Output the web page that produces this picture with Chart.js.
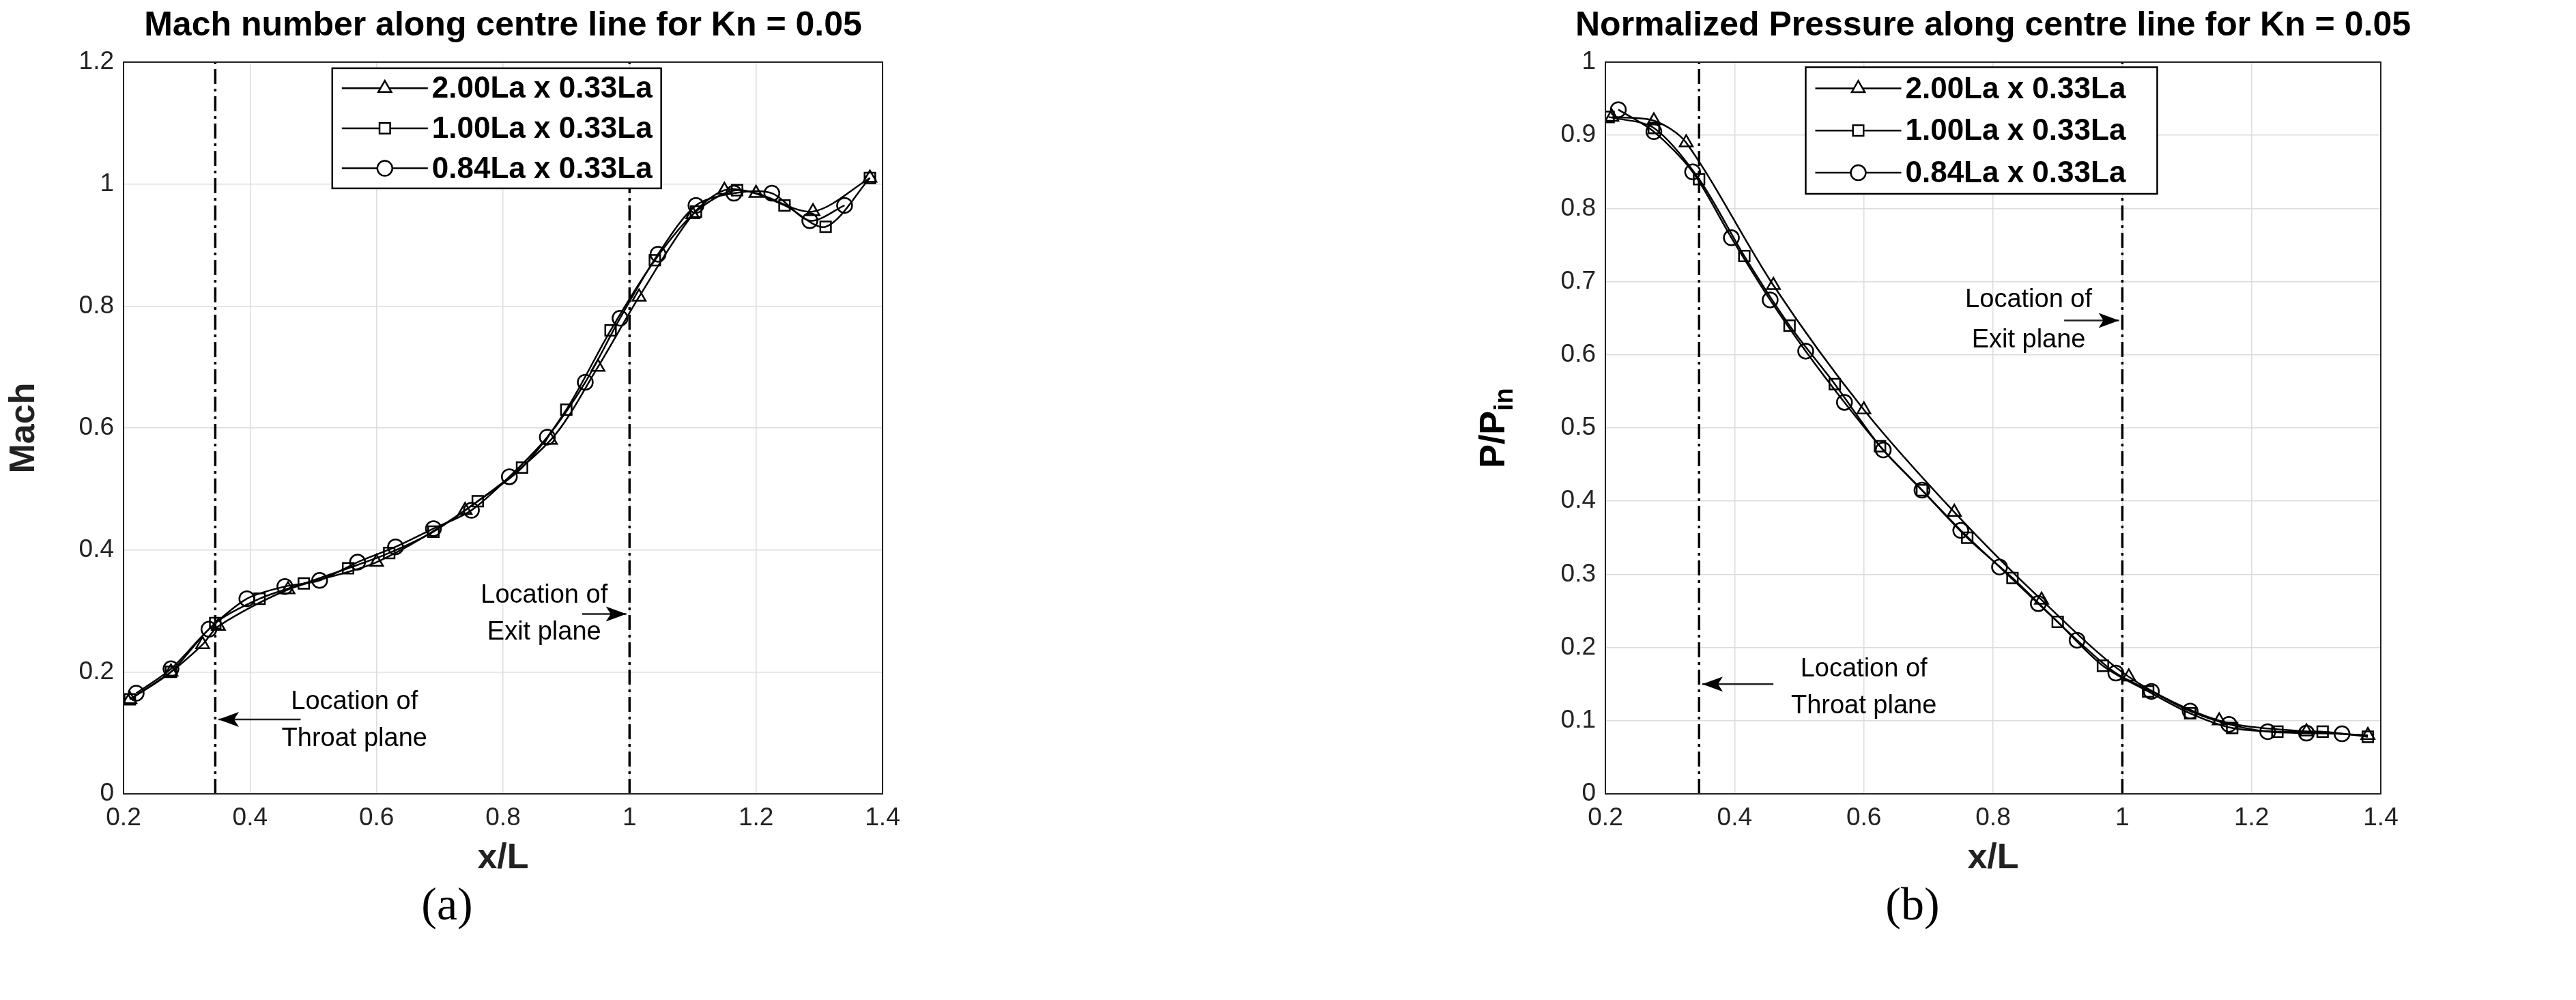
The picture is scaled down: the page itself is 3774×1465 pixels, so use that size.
<!DOCTYPE html>
<html>
<head>
<meta charset="utf-8">
<script src="https://cdn.jsdelivr.net/npm/chart.js@4"></script>
<style>
  body { margin: 0; background: #fff; width: 3774px; height: 1465px; position: relative; overflow: hidden; }
  .box { position: absolute; top: 0; }
  .cap { position: absolute; top: 1285px; font: 68px 'Liberation Serif', serif; color: #000; transform: translateX(-50%); }
</style>
</head>
<body>
<div class="box" style="left:0;width:1340px;height:1293px"><canvas id="mach"></canvas></div>
<div class="box" style="left:2100px;width:1448px;height:1293px"><canvas id="press"></canvas></div>
<div class="cap" style="left:655px">(a)</div>
<div class="cap" style="left:2802px">(b)</div>
<script>
'use strict';

/* DATA */
let seriesNames = ['2.00La x 0.33La', '1.00La x 0.33La', '0.84La x 0.33La'];
let markerStyles = ['triangle', 'rect', 'circle'];

let machTriX = [0.21, 0.275, 0.325, 0.35, 0.46, 0.6, 0.74, 0.875, 0.95, 1.015, 1.1, 1.15, 1.2, 1.29, 1.38];
let machTriY = [0.155, 0.2, 0.245, 0.275, 0.335, 0.38, 0.465, 0.58, 0.7, 0.815, 0.95, 0.99, 0.985, 0.955, 1.01];
let machSqX = [0.21, 0.275, 0.345, 0.415, 0.485, 0.555, 0.62, 0.69, 0.76, 0.83, 0.9, 0.97, 1.04, 1.105, 1.17, 1.245, 1.31, 1.38];
let machSqY = [0.155, 0.2, 0.28, 0.32, 0.345, 0.37, 0.395, 0.43, 0.48, 0.535, 0.63, 0.76, 0.875, 0.955, 0.99, 0.965, 0.93, 1.01];
let machCiX = [0.22, 0.275, 0.335, 0.395, 0.455, 0.51, 0.57, 0.63, 0.69, 0.75, 0.81, 0.87, 0.93, 0.985, 1.045, 1.105, 1.165, 1.225, 1.285, 1.34];
let machCiY = [0.165, 0.205, 0.27, 0.32, 0.34, 0.35, 0.38, 0.405, 0.435, 0.465, 0.52, 0.585, 0.675, 0.78, 0.885, 0.965, 0.985, 0.985, 0.94, 0.965];

let presTriX = [0.21, 0.275, 0.325, 0.46, 0.6, 0.74, 0.875, 1.01, 1.15, 1.285, 1.38];
let presTriY = [0.925, 0.92, 0.89, 0.695, 0.525, 0.385, 0.265, 0.16, 0.1, 0.085, 0.08];
let presSqX = [0.205, 0.275, 0.345, 0.415, 0.485, 0.555, 0.625, 0.69, 0.76, 0.83, 0.9, 0.97, 1.04, 1.105, 1.17, 1.24, 1.31, 1.38];
let presSqY = [0.925, 0.91, 0.84, 0.735, 0.64, 0.56, 0.475, 0.415, 0.35, 0.295, 0.235, 0.175, 0.14, 0.11, 0.09, 0.085, 0.085, 0.078];
let presCiX = [0.22, 0.275, 0.335, 0.395, 0.455, 0.51, 0.57, 0.63, 0.69, 0.75, 0.81, 0.87, 0.93, 0.99, 1.045, 1.105, 1.165, 1.225, 1.285, 1.34];
let presCiY = [0.935, 0.905, 0.85, 0.76, 0.675, 0.605, 0.535, 0.47, 0.415, 0.36, 0.31, 0.26, 0.21, 0.165, 0.14, 0.113, 0.095, 0.085, 0.083, 0.082];

let xTicks = [0.2, 0.4, 0.6, 0.8, 1, 1.2, 1.4];
let throatX = 0.345;
let exitX = 1.0;

const FONT = "'Liberation Sans Narrow', 'Liberation Sans', Arial, sans-serif";

function pts(xs, ys) {
  return xs.map((x, i) => ({ x: x, y: ys[i] }));
}

function lineSet(data, style) {
  return {
    data: data,
    showLine: true,
    tension: 0.3,
    borderColor: '#000',
    borderWidth: 2.5,
    pointStyle: style,
    pointRadius: 11,
    pointBorderWidth: 2.5,
    pointBackgroundColor: 'rgba(255,255,255,0)',
    pointBorderColor: '#000',
  };
}

function vLine(x, yMax) {
  return {
    data: [{ x: x, y: 0 }, { x: x, y: yMax }],
    showLine: true,
    borderColor: '#000',
    borderWidth: 3.5,
    borderDash: [22, 7, 4, 7],
    pointRadius: 0,
  };
}

function arrow(ctx, x1, y1, x2, y2) {
  ctx.beginPath();
  ctx.moveTo(x1, y1);
  ctx.lineTo(x2, y2);
  ctx.stroke();
  let d = x2 > x1 ? -1 : 1;
  ctx.beginPath();
  ctx.moveTo(x2, y2);
  ctx.lineTo(x2 + d * 30, y2 - 11);
  ctx.lineTo(x2 + d * 23, y2);
  ctx.lineTo(x2 + d * 30, y2 + 11);
  ctx.closePath();
  ctx.fill();
}

function decorPlugin(cfg) {
  return {
    id: 'decor',
    afterDatasetsDraw(chart) {
      let ctx = chart.ctx;
      let a = chart.chartArea;
      let xs = chart.scales.x, ys = chart.scales.y;
      ctx.save();
      ctx.strokeStyle = '#222';
      ctx.lineWidth = 2;
      ctx.strokeRect(a.left, a.top, a.right - a.left, a.bottom - a.top);
      // title
      ctx.fillStyle = '#000';
      ctx.font = 'bold 50px ' + FONT;
      ctx.textAlign = 'center';
      ctx.textBaseline = 'middle';
      ctx.fillText(cfg.title, (a.left + a.right) / 2, 38);
      // annotations
      ctx.font = '38px ' + FONT;
      ctx.lineWidth = 2.5;
      cfg.notes.forEach(n => {
        ctx.fillText('Location of', xs.getPixelForValue(n.tx), ys.getPixelForValue(n.ty1));
        ctx.fillText(n.label, xs.getPixelForValue(n.tx), ys.getPixelForValue(n.ty2));
        arrow(ctx, xs.getPixelForValue(n.ax1), ys.getPixelForValue(n.ay), xs.getPixelForValue(n.ax2), ys.getPixelForValue(n.ay));
      });
      // legend
      let lx = xs.getPixelForValue(cfg.leg[0]);
      let rx = xs.getPixelForValue(cfg.leg[1]);
      let ty = ys.getPixelForValue(cfg.leg[2]);
      let by = ys.getPixelForValue(cfg.leg[3]);
      ctx.fillStyle = '#fff';
      ctx.fillRect(lx, ty, rx - lx, by - ty);
      ctx.strokeStyle = '#000';
      ctx.strokeRect(lx, ty, rx - lx, by - ty);
      let rowH = (by - ty) / 3;
      ctx.font = 'bold 44px ' + FONT;
      ctx.textAlign = 'left';
      seriesNames.forEach((name, i) => {
        let cy = ty + rowH * (i + 0.5);
        ctx.lineWidth = 2.5;
        ctx.beginPath();
        ctx.moveTo(lx + 14, cy);
        ctx.lineTo(lx + 140, cy);
        ctx.stroke();
        ctx.fillStyle = '#fff';
        Chart.helpers.drawPoint(ctx, { pointStyle: markerStyles[i], radius: 11, rotation: 0, borderWidth: 2.5 }, lx + 77, cy);
        ctx.fillStyle = '#000';
        ctx.fillText(name, lx + 146, cy + 2);
      });
      // custom y label
      if (cfg.ylabelSub) {
        ctx.translate(cfg.ylabelX - chart.canvas.getBoundingClientRect().left, (a.top + a.bottom) / 2);
        ctx.rotate(-Math.PI / 2);
        ctx.font = 'bold 52px ' + FONT;
        let w1 = ctx.measureText('P/P').width;
        ctx.font = 'bold 38px ' + FONT;
        let w2 = ctx.measureText('in').width;
        let start = -(w1 + w2) / 2;
        ctx.font = 'bold 52px ' + FONT;
        ctx.textAlign = 'left';
        ctx.fillText('P/P', start, 0);
        ctx.font = 'bold 38px ' + FONT;
        ctx.fillText('in', start + w1, 16);
      }
      ctx.restore();
    },
  };
}

function makeChart(id, datasets, yMax, yStep, yWidth, yTitle, deco) {
  let el = document.getElementById(id);
  return new Chart(el.getContext('2d'), {
    type: 'scatter',
    data: { datasets: datasets },
    options: {
      responsive: true,
      maintainAspectRatio: false,
      animation: false,
      layout: { padding: { top: 91, right: deco.padRight, left: 0, bottom: 0 } },
      plugins: { legend: { display: false }, tooltip: { enabled: false } },
      scales: {
        x: {
          type: 'linear', min: 0.2, max: 1.4,
          afterBuildTicks: s => { s.ticks = xTicks.map(v => ({ value: v })); },
          afterFit: s => { s.height = 130; },
          grid: { color: '#dcdcdc', lineWidth: 1.5, drawTicks: false },
          border: { display: false },
          ticks: { color: '#222', padding: 14, font: { family: FONT, size: 37 }, callback: v => String(Number(v.toFixed(1))) },
          title: { display: true, text: 'x/L', color: '#222', font: { family: FONT, size: 52, weight: 'bold' }, padding: { top: 4 } },
        },
        y: {
          type: 'linear', min: 0, max: yMax,
          afterFit: s => { s.width = yWidth; },
          grid: { color: '#dcdcdc', lineWidth: 1.5, drawTicks: false },
          border: { display: false },
          ticks: { stepSize: yStep, color: '#222', padding: 14, font: { family: FONT, size: 37 }, callback: v => String(Number(v.toFixed(1))) },
          title: { display: !!yTitle, text: yTitle, color: '#222', font: { family: FONT, size: 52, weight: 'bold' }, padding: { bottom: 6 } },
        },
      },
    },
    plugins: [decorPlugin(deco)],
  });
}

makeChart('mach', [
  lineSet(pts(machTriX, machTriY), 'triangle'),
  lineSet(pts(machSqX, machSqY), 'rect'),
  lineSet(pts(machCiX, machCiY), 'circle'),
  vLine(throatX, 1.2),
  vLine(exitX, 1.2),
], 1.2, 0.2, 181, 'Mach', {
  title: 'Mach number along centre line for Kn = 0.05',
  padRight: 47,
  leg: [0.53, 1.05, 1.19, 0.993],
  notes: [
    { tx: 0.865, ty1: 0.325, ty2: 0.265, label: 'Exit plane', ax1: 0.925, ax2: 0.995, ay: 0.295 },
    { tx: 0.565, ty1: 0.15, ty2: 0.09, label: 'Throat plane', ax1: 0.48, ax2: 0.35, ay: 0.122 },
  ],
});

makeChart('press', [
  lineSet(pts(presTriX, presTriY), 'triangle'),
  lineSet(pts(presSqX, presSqY), 'rect'),
  lineSet(pts(presCiX, presCiY), 'circle'),
  vLine(throatX, 1),
  vLine(exitX, 1),
], 1, 0.1, 252, '', {
  title: 'Normalized Pressure along centre line for Kn = 0.05',
  padRight: 60,
  leg: [0.51, 1.054, 0.993, 0.82],
  ylabelSub: true,
  ylabelX: 2190,
  notes: [
    { tx: 0.855, ty1: 0.675, ty2: 0.62, label: 'Exit plane', ax1: 0.91, ax2: 0.995, ay: 0.647 },
    { tx: 0.6, ty1: 0.17, ty2: 0.12, label: 'Throat plane', ax1: 0.46, ax2: 0.35, ay: 0.15 },
  ],
});
</script>
</body>
</html>
